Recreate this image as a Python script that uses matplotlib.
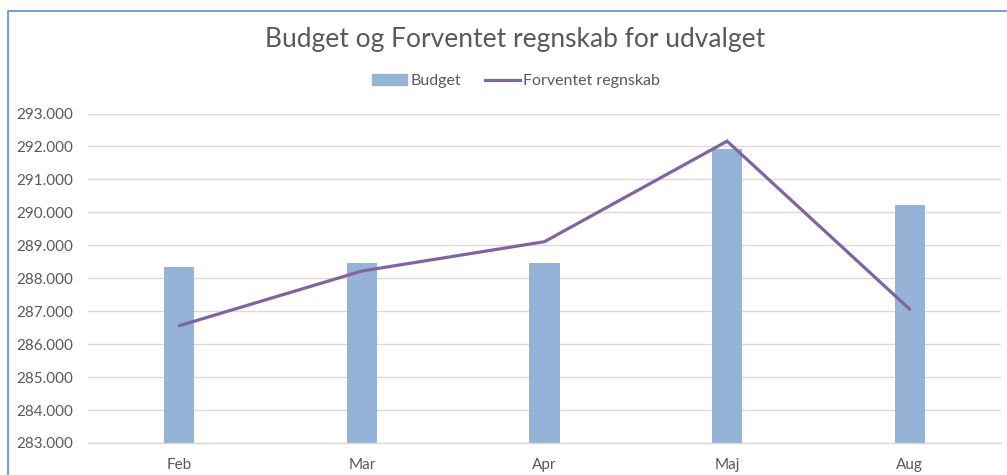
import matplotlib.pyplot as plt
from matplotlib.patches import Rectangle
from matplotlib.lines import Line2D

# ==========================================================
# Data
# ==========================================================

months = ["Feb", "Mar", "Apr", "Maj", "Aug"]

budget = [288330, 288470, 288470, 291910, 290225]

forventet = [286560, 288220, 289110, 292160, 287060]

y_ticks = list(range(283000, 293001, 1000))

y_labels = [f"{v / 1000:.3f}" for v in y_ticks]

# ==========================================================
# Styling
# ==========================================================

BAR_COLOR = "#95B3D7"
LINE_COLOR = "#8064A2"
TEXT_COLOR = "#595959"
GRID_COLOR = "#D9D9D9"

plt.rcParams["font.family"] = ["Lato", "DejaVu Sans"]

W, H = 1007, 475

fig = plt.figure(figsize=(W / 100, H / 100), dpi=100)

ax = fig.add_axes([

    88 / W,

    (H - 443) / H,

    (1001 - 88) / W,

    (443 - 113.5) / H

])

x = list(range(len(months)))

ax.bar(x, budget, width=0.165, color=BAR_COLOR, zorder=2)

ax.plot(x, forventet, color=LINE_COLOR, linewidth=2.3, zorder=3,
        solid_capstyle="round", solid_joinstyle="miter")

ax.set_xlim(-0.5, len(months) - 0.5)
ax.set_ylim(283000, 293000)

ax.set_yticks(y_ticks)
ax.set_yticklabels(y_labels)
ax.set_xticks(x)
ax.set_xticklabels(months)

ax.tick_params(axis="both", length=0, labelsize=11, colors=TEXT_COLOR)
ax.tick_params(axis="y", pad=10.5)
ax.tick_params(axis="x", pad=11)

ax.grid(axis="y", color=GRID_COLOR, linewidth=1, zorder=0)

for side in ["top", "right", "left"]:
    ax.spines[side].set_visible(False)

ax.spines["bottom"].set_color(GRID_COLOR)
ax.spines["bottom"].set_linewidth(1)

fig.text(515 / W, 1 - 40 / H, "Budget og Forventet regnskab for udvalget",
         ha="center", va="center", fontsize=19, color=TEXT_COLOR)

handles = [

    Rectangle((0, 0), 1, 1, color=BAR_COLOR),

    Line2D([0], [0], color=LINE_COLOR, linewidth=2.3)

]

fig.legend(

    handles,

    ["Budget", "Forventet regnskab"],

    loc="center",

    bbox_to_anchor=(516 / W, 1 - 81 / H),

    ncol=2,

    frameon=False,

    fontsize=11.5,

    labelcolor=TEXT_COLOR,

    handlelength=2.2,

    handletextpad=0.2,

    columnspacing=1.5

)

# chart border (blue frame at top and left)
fig.add_artist(Rectangle(

    (8 / W, -0.1),

    1.2,

    1.1 - 11 / H,

    transform=fig.transFigure,

    fill=False,

    edgecolor="#5B8BD0",

    linewidth=1.2

))

fig.savefig("out.png", dpi=100)
